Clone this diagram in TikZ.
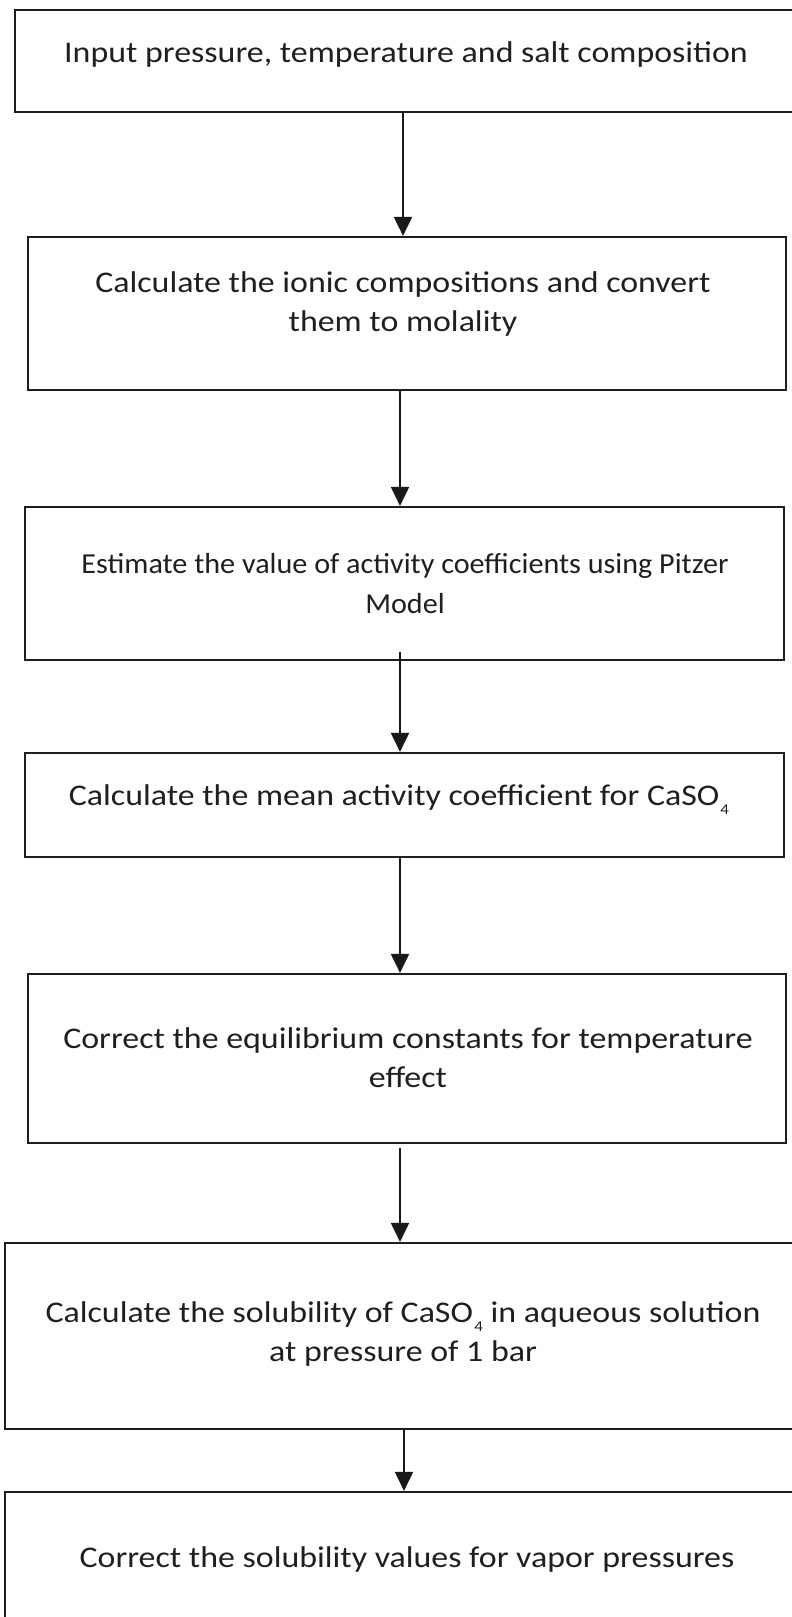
\documentclass[tikz,border=0pt]{standalone}
\usepackage{fontspec}
\setmainfont{Carlito}
\usetikzlibrary{arrows.meta}
\newcommand\subfour{\kern1bp\raisebox{-9bp}{\fontsize{15bp}{15bp}\selectfont 4}}
\begin{document}
\begin{tikzpicture}[x=1bp,y=-1bp,
  box/.style={draw=black!88,line width=2.2bp,rectangle,inner sep=0pt},
  txt/.style={text=black!88,font=\fontsize{30bp}{39bp}\selectfont,align=center,inner sep=0pt,xscale=1.13,transform shape},
  smalltxt/.style={text=black!88,font=\fontsize{29bp}{40bp}\selectfont,align=center,inner sep=0pt,xscale=1.04,transform shape},
  arr/.style={draw=black!90,line width=2bp,-{Triangle[length=19bp,width=18bp]}}]
\useasboundingbox (0,0) rectangle (792,1617);
% boxes
\node[box,minimum width=782bp,minimum height=102bp] (b1) at (406,61) {};
\node[box,minimum width=758bp,minimum height=153bp] (b2) at (407,313.5) {};
\node[box,minimum width=759bp,minimum height=153bp] (b3) at (404.5,583.5) {};
\node[box,minimum width=759bp,minimum height=104bp] (b4) at (404.5,805) {};
\node[box,minimum width=758bp,minimum height=169bp] (b5) at (407,1058.5) {};
\node[box,minimum width=795bp,minimum height=186bp] (b6) at (402.5,1336) {};
\node[box,minimum width=795bp,minimum height=140bp] (b7) at (402.5,1562) {};
% texts
\node[txt] (t1) at (406,55) {Input pressure, temperature and salt composition};
\node[txt] (t2) at (403,304) {Calculate the ionic compositions and convert\\them to molality};
\node[smalltxt] (t3) at (405,584) {Estimate the value of activity coefficients using Pitzer\\Model};
\node[txt,anchor=base] (t4) at (399,805) {Calculate the mean activity coefficient for CaSO\subfour};
\node[txt] (t5) at (408,1058) {Correct the equilibrium constants for temperature\\effect};
\node[txt] (t6) at (403,1334) {Calculate the solubility of CaSO\subfour{} in aqueous solution\\at pressure of 1 bar};
\node[txt] (t7) at (407,1559) {Correct the solubility values for vapor pressures};
% arrow x positions
\coordinate (x1) at (403,0);
\coordinate (x2) at (400,0);
\coordinate (x6) at (404,0);
\draw[arr] (b1.south -| x1) -- (b2.north -| x1);
\draw[arr] (b2.south -| x2) -- (b3.north -| x2);
\draw[arr] ([yshift=9bp]b3.south -| x2) -- (b4.north -| x2);
\draw[arr] (b4.south -| x2) -- (b5.north -| x2);
\draw[arr] ([yshift=-4bp]b5.south -| x2) -- (b6.north -| x2);
\draw[arr] (b6.south -| x6) -- (b7.north -| x6);
\end{tikzpicture}
\end{document}
